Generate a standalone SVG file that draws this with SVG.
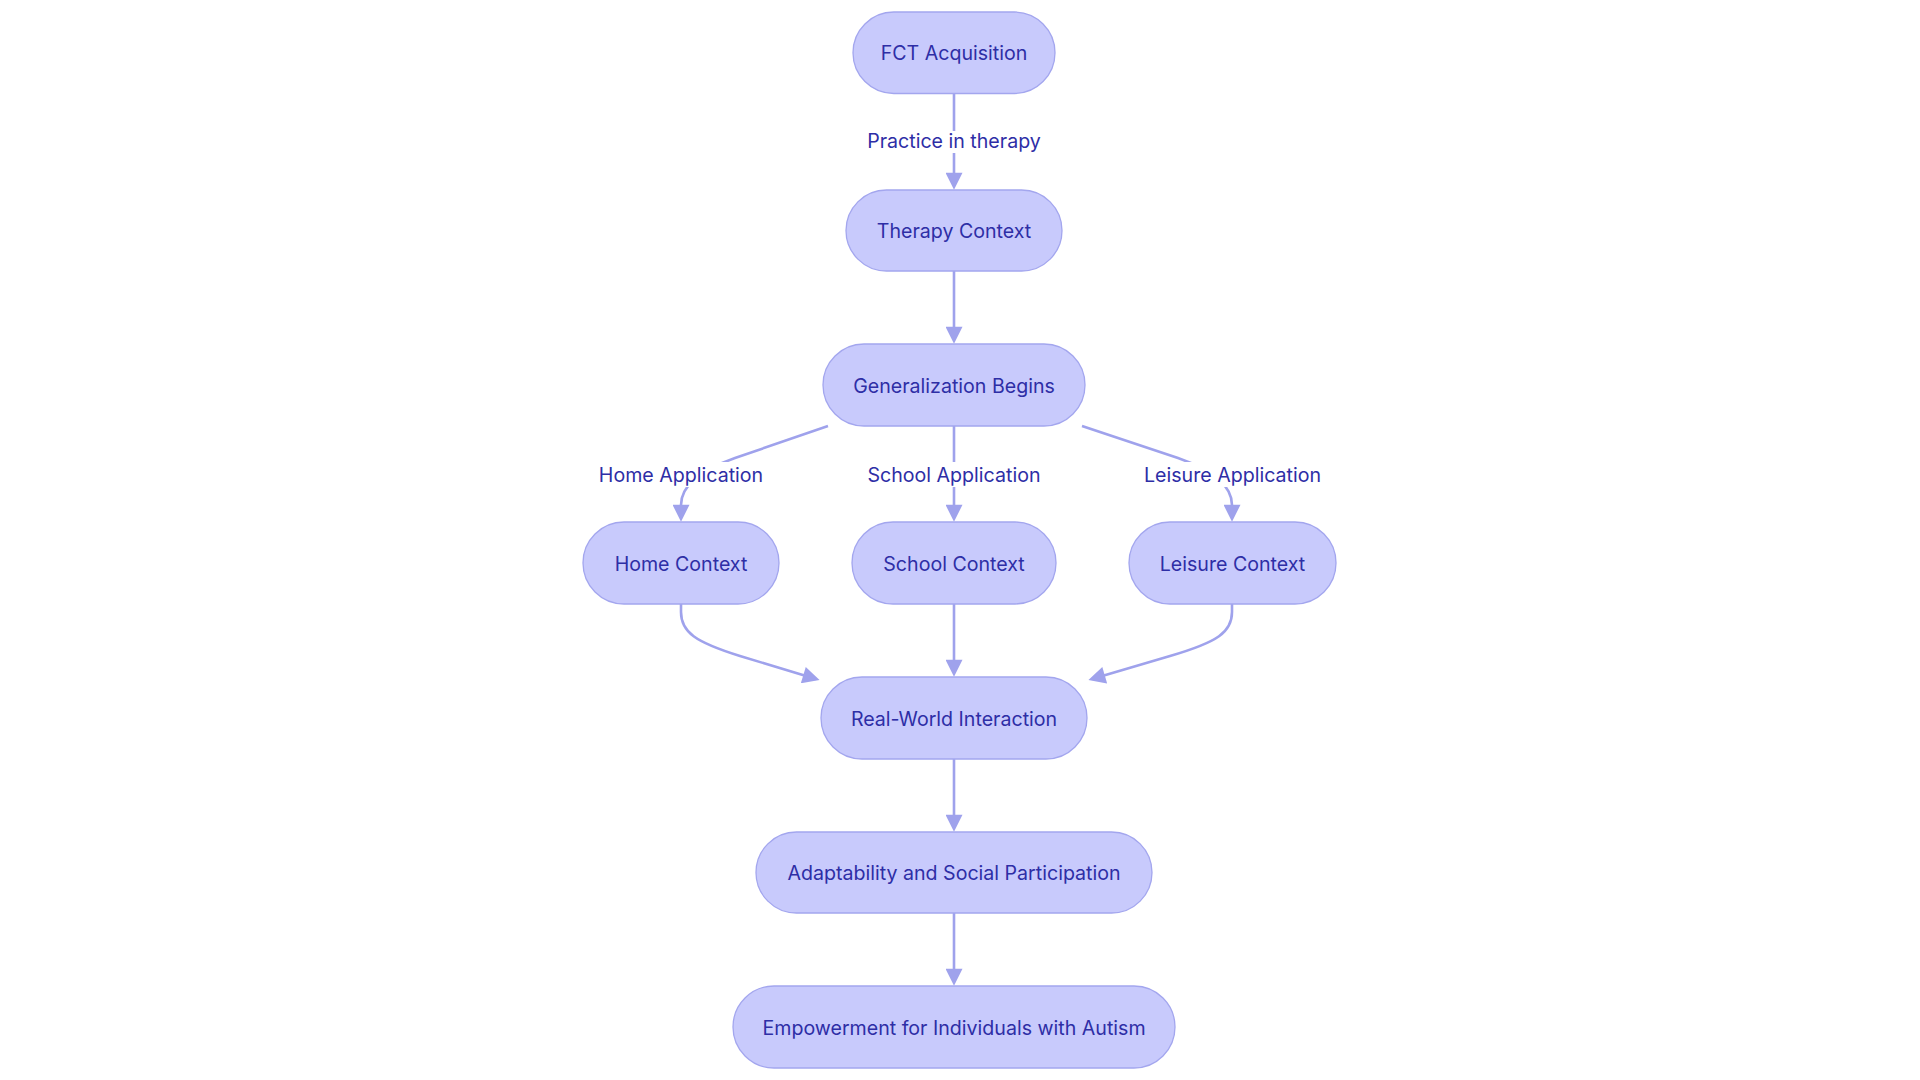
<svg xmlns="http://www.w3.org/2000/svg" width="1920" height="1080" viewBox="0 0 1920 1080">
<style>
.node rect{fill:#C8CAFC;stroke:#A3A6EE;stroke-width:1.3}
.node text,.lbl text{font-family:Inter,"Noto Sans","Liberation Sans",sans-serif;font-size:19.6px;fill:#2E2EA6;text-anchor:middle}
.edges path{fill:none;stroke:#9FA2EC;stroke-width:2.6}
.lbl rect{fill:#FFFFFF}
</style>
<defs>
<marker id="arr" viewBox="0 0 10 10" refX="7.8" refY="5" markerUnits="userSpaceOnUse" markerWidth="18" markerHeight="17" orient="auto">
<path d="M0,0 L10,5 L0,10 z" fill="#9FA2EC"/>
</marker>
</defs>
<rect width="1920" height="1080" fill="#FFFFFF"/>
<g class="edges">
<path d="M954,93 L954,186" marker-end="url(#arr)"/>
<path d="M954,271 L954,340" marker-end="url(#arr)"/>
<path d="M828,426 L735,458 Q681,477 681,505 L681,518" marker-end="url(#arr)"/>
<path d="M954,426 L954,518" marker-end="url(#arr)"/>
<path d="M1082,426 L1178,458 Q1232,477 1232,505 L1232,518" marker-end="url(#arr)"/>
<path d="M681,604 L681,612 C681,632 695,642 740,656 L816,679" marker-end="url(#arr)"/>
<path d="M954,604 L954,673" marker-end="url(#arr)"/>
<path d="M1232,604 L1232,612 C1232,632 1218,642 1170,656 L1092,679" marker-end="url(#arr)"/>
<path d="M954,759 L954,828" marker-end="url(#arr)"/>
<path d="M954,913 L954,982" marker-end="url(#arr)"/>
</g>
<g class="lbl" id="lbl-practice"><rect x="865" y="131" width="178" height="22"/><text x="954" y="148">Practice in therapy</text></g>
<g class="lbl" id="lbl-home"><rect x="597" y="462" width="168" height="25"/><text x="681" y="482">Home Application</text></g>
<g class="lbl" id="lbl-school"><rect x="867" y="462" width="174" height="25"/><text x="954" y="482">School Application</text></g>
<g class="lbl" id="lbl-leisure"><rect x="1144" y="462" width="177" height="25"/><text x="1232.5" y="482">Leisure Application</text></g>
<g class="node" id="n-fct"><rect x="853" y="12" width="202" height="81.5" rx="40.75"/><text x="954" y="60">FCT Acquisition</text></g>
<g class="node" id="n-therapy"><rect x="846" y="190" width="216" height="81" rx="40.5"/><text x="954" y="238">Therapy Context</text></g>
<g class="node" id="n-gen"><rect x="823" y="344" width="262" height="82" rx="41"/><text x="954" y="392.5">Generalization Begins</text></g>
<g class="node" id="n-home"><rect x="583" y="522" width="196" height="82" rx="41"/><text x="681" y="570.5">Home Context</text></g>
<g class="node" id="n-school"><rect x="852" y="522" width="204" height="82" rx="41"/><text x="954" y="570.5">School Context</text></g>
<g class="node" id="n-leisure"><rect x="1129" y="522" width="207" height="82" rx="41"/><text x="1232.5" y="570.5">Leisure Context</text></g>
<g class="node" id="n-rw"><rect x="821" y="677" width="266" height="82" rx="41"/><text x="954" y="725.5">Real-World Interaction</text></g>
<g class="node" id="n-adapt"><rect x="756" y="832" width="396" height="81" rx="40.5"/><text x="954" y="880">Adaptability and Social Participation</text></g>
<g class="node" id="n-emp"><rect x="733" y="986" width="442" height="82" rx="41"/><text x="954" y="1034.5">Empowerment for Individuals with Autism</text></g>
</svg>
